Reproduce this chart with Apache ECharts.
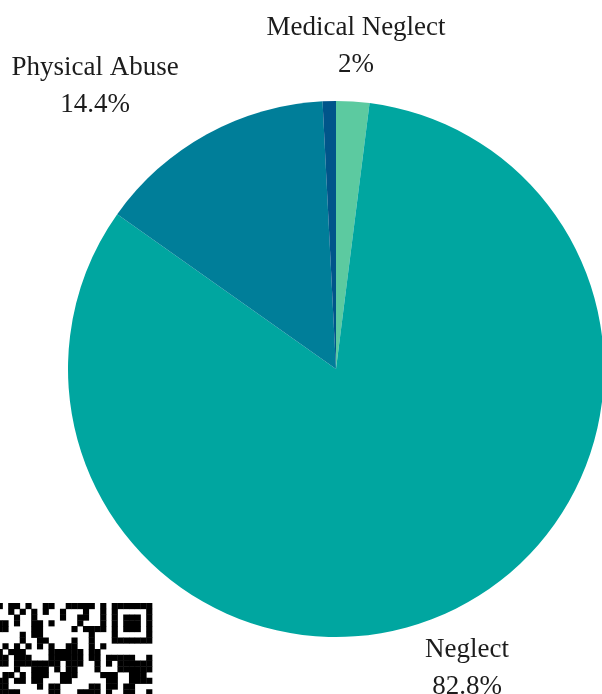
<!DOCTYPE html>
<html><head><meta charset="utf-8">
<script src="https://cdn.jsdelivr.net/npm/echarts@6/dist/echarts.min.js"></script>
<style>html,body{margin:0;padding:0;background:#fff}#c{width:602px;height:694px}</style>
</head><body><div id="c"></div>
<script>
const categories = ["Medical Neglect", "Neglect", "Physical Abuse", "Sexual Abuse"];
const values = [2, 82.8, 14.4, 0.8];
const colors = ["#5ccaa0", "#00a6a0", "#007e99", "#00558a"];
const showLabel = [true, true, true, false];

// label anchor positions (layout only)
const labelAnchors = [[356, 46], [467, 668], [95, 86], [0, 0]];

// decorative QR fragment in the lower-left corner
const qrRows = [
  "10110100110" + "011111010" + "1111111",
  "00101010100" + "100010010" + "1000001",
  "00010010000" + "100110010" + "1011101",
  "11010011010" + "000100010" + "1011101",
  "11000011000" + "001011110" + "1011101",
  "00001011000" + "000001000" + "1000001",
  "00001001100" + "001001000" + "1111111",
  "01010101010" + "011001010" + "0000000",
  "10111000011" + "1111011000000000",
  "11011100011" + "1111011011111001",
  "11011111111" + "0111001010111111",
  "00010011101" + "0110001000111111",
  "01101011100" + "1110000111001110",
  "11011011000" + "1100000011001111",
  "11000001011" + "0000011011011000",
  "11110000011" + "0001111010011001"
];
const qrX0 = -3.3, qrY0 = 603, qrS = 5.75;
const qrRects = [];
qrRows.forEach((row, r) => {
  for (let c = 0; c < row.length; c++) {
    if (row[c] === '1') {
      qrRects.push({
        type: 'rect', silent: true,
        shape: {x: qrX0 + c * qrS, y: qrY0 + r * qrS, width: qrS + 0.4, height: qrS + 0.4},
        style: {fill: '#000'}
      });
    }
  }
});

const chart = echarts.init(document.getElementById('c'), null, {renderer: 'canvas'});
chart.setOption({
  animation: false,
  graphic: qrRects,
  series: [{
    type: 'pie',
    center: [336, 369],
    radius: [0, 268],
    startAngle: 90,
    clockwise: true,
    avoidLabelOverlap: false,
    data: categories.map((c, i) => ({
      name: c, value: values[i],
      itemStyle: {color: colors[i]},
      label: {show: showLabel[i]}
    })),
    label: {
      position: 'outside',
      formatter: p => p.name + '\n' + p.value + '%',
      fontFamily: 'Liberation Serif',
      fontSize: 27,
      lineHeight: 37,
      color: '#1c1c1c',
      align: 'center'
    },
    labelLayout: p => ({
      x: labelAnchors[p.dataIndex][0],
      y: labelAnchors[p.dataIndex][1],
      align: 'center',
      verticalAlign: 'middle'
    }),
    labelLine: {show: false},
    itemStyle: {borderWidth: 0}
  }]
});
</script></body></html>
